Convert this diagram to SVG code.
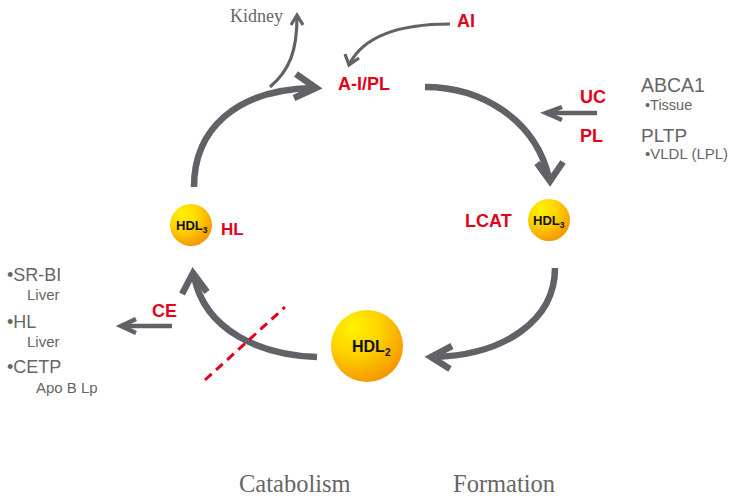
<svg xmlns="http://www.w3.org/2000/svg" width="740" height="500" viewBox="0 0 740 500">
<defs>
<radialGradient id="ball" cx="35%" cy="28%" r="80%" fx="30%" fy="22%">
<stop offset="0" stop-color="#FFF200"/>
<stop offset="0.45" stop-color="#FFD400"/>
<stop offset="1" stop-color="#F39000"/>
</radialGradient>
<style>
.arc{fill:none;stroke:#616167;stroke-width:6.5}
.head{fill:none;stroke:#616167;stroke-width:6.5;stroke-linejoin:miter;stroke-linecap:butt}
.thin{fill:none;stroke:#616167;stroke-width:3.2}
.mid{fill:none;stroke:#616167;stroke-width:4.5}
.red{fill:#E3001B;font-family:"Liberation Sans",Arial,sans-serif;font-weight:bold}
.gray{fill:#666;font-family:"Liberation Sans",Arial,sans-serif}
.serif{fill:#666;font-family:"Liberation Serif","Times New Roman",serif}
.lbl{fill:#111;font-family:"Liberation Sans",Arial,sans-serif;font-weight:bold}
</style>
</defs>
<g id="connectors">
<path class="arc" d="M194,187 C194,130 235,90 312,88"/>
<polyline class="head" points="296,74 316,88 294,98"/>
<path class="thin" d="M270,87 C290,70 297,50 297,17"/>
<polyline class="thin" points="291,25 297,15 303,25"/>
<path class="thin" d="M450,24 C400,24 365,35 350,63"/>
<polyline class="thin" points="345,54 349,65 359,58"/>
<path class="arc" d="M425,87 C480,87 535,118 549,178"/>
<polyline class="head" points="537,163 550,181 563,162"/>
<path class="mid" d="M597,113 L546,113"/>
<polyline class="mid" points="562,107 546,113 562,120"/>
<path class="arc" d="M555,268 C555,320 505,355 434,357"/>
<polyline class="head" points="452,346 431,357 450,369"/>
<path class="arc" d="M317,357 C262,355 205,332 194,276"/>
<polyline class="head" points="182,294 193,273 207,292"/>
<path class="mid" d="M172,326 L121,326"/>
<polyline class="mid" points="136,319 121,326 136,333"/>
<line x1="205" y1="380" x2="285" y2="307" stroke="#E3001B" stroke-width="3" stroke-dasharray="9,6"/>
</g>
<g id="kidney"><text class="serif" x="230" y="22" font-size="18">Kidney</text></g>
<g id="ai"><text class="red" x="457" y="27" font-size="18">AI</text></g>
<g id="aipl"><text class="red" x="338" y="90" font-size="18">A-I/PL</text></g>
<g id="uc"><text class="red" x="580" y="103" font-size="18">UC</text></g>
<g id="pl"><text class="red" x="580" y="142" font-size="18">PL</text></g>
<g id="abca1">
<text class="gray" x="641" y="92" font-size="19.5">ABCA1</text>
<text class="gray" x="645" y="110" font-size="14.5">•Tissue</text>
</g>
<g id="pltp">
<text class="gray" x="641" y="142" font-size="19">PLTP</text>
<text class="gray" x="645" y="159" font-size="15">•VLDL (LPL)</text>
</g>
<g id="hdl3-right">
<text class="red" x="465" y="227" font-size="18">LCAT</text>
<circle cx="549" cy="220" r="21" fill="url(#ball)"/>
<text class="lbl" x="533" y="225" font-size="13">HDL<tspan font-size="8.5" dy="3">3</tspan></text>
</g>
<g id="hdl3-left">
<circle cx="191" cy="225" r="21" fill="url(#ball)"/>
<text class="lbl" x="176" y="230" font-size="13">HDL<tspan font-size="8.5" dy="3">3</tspan></text>
<text class="red" x="221" y="235" font-size="17">HL</text>
</g>
<g id="hdl2">
<circle cx="367" cy="346" r="36" fill="url(#ball)"/>
<text class="lbl" x="352" y="352" font-size="16">HDL<tspan font-size="10" dy="4">2</tspan></text>
</g>
<g id="ce"><text class="red" x="152" y="317" font-size="18">CE</text></g>
<g id="catabolic-list">
<text class="gray" x="7" y="281" font-size="18">•SR-BI</text>
<text class="gray" x="27" y="300" font-size="15">Liver</text>
<text class="gray" x="7" y="328" font-size="18">•HL</text>
<text class="gray" x="27" y="347" font-size="15">Liver</text>
<text class="gray" x="7" y="373" font-size="18">•CETP</text>
<text class="gray" x="36" y="393" font-size="15">Apo B Lp</text>
</g>
<g id="catabolism"><text class="serif" x="239" y="492" font-size="24.5">Catabolism</text></g>
<g id="formation"><text class="serif" x="453" y="492" font-size="24.5">Formation</text></g>
</svg>
